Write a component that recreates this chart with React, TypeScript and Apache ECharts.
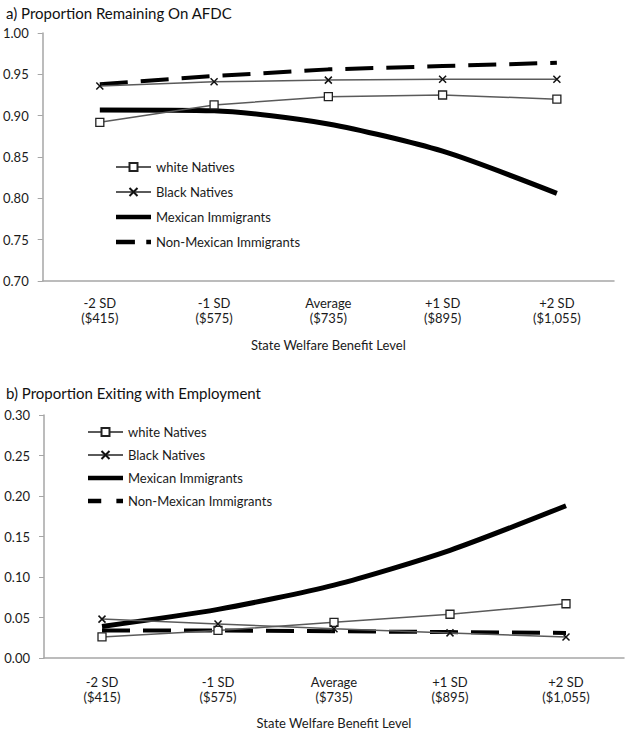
import React, { useEffect, useRef } from "react";
import * as echarts from "echarts";

const sdLabels = ["-2 SD", "-1 SD", "Average", "+1 SD", "+2 SD"];
const dollarLabels = ["($415)", "($575)", "($735)", "($895)", "($1,055)"];
const seriesNames = ["white Natives", "Black Natives", "Mexican Immigrants", "Non-Mexican Immigrants"];

const topWhite = [0.892, 0.913, 0.923, 0.925, 0.92];
const topBlack = [0.936, 0.941, 0.943, 0.944, 0.944];
const topMexican = [0.907, 0.906, 0.89, 0.857, 0.806];
const topNonMexican = [0.938, 0.948, 0.956, 0.96, 0.964];

const bottomWhite = [0.026, 0.034, 0.044, 0.054, 0.067];
const bottomBlack = [0.048, 0.042, 0.036, 0.031, 0.026];
const bottomMexican = [0.039, 0.06, 0.09, 0.133, 0.188];
const bottomNonMexican = [0.034, 0.034, 0.033, 0.032, 0.031];

const topTitle = "a) Proportion Remaining On AFDC";
const bottomTitle = "b) Proportion Exiting with Employment";
const xName = "State Welfare Benefit Level";

const FONT = "Lato, 'Liberation Sans', sans-serif";
const AXIS_GRAY = "#a6a6a6";
const THIN = "#5a5a5a";
const TEXT = "#1a1a1a";
const X_PATH = "path://M0,0L10,10M10,0L0,10";
const SOLID_ICON = "path://M0,0H37V4.5H0Z";
const DASH_ICON_TOP = "path://M0,0H20V4.5H0ZM32,0H37V4.5H32Z";
const DASH_ICON_BOTTOM = "path://M0,0H14V4.5H0ZM30,0H37V4.5H30Z";

function makeSeries(idx: number, data: number[][]) {
  const [w, b, m, n] = data;
  return [
    {
      name: seriesNames[0], type: "line", xAxisIndex: idx, yAxisIndex: idx, data: w,
      symbol: "rect", symbolSize: 8,
      lineStyle: { color: THIN, width: 1.5 },
      itemStyle: { color: "#ffffff", borderColor: "#222", borderWidth: 1.3 },
      z: 4,
    },
    {
      name: seriesNames[1], type: "line", xAxisIndex: idx, yAxisIndex: idx, data: b,
      symbol: X_PATH, symbolSize: 7,
      lineStyle: { color: THIN, width: 1.5 },
      itemStyle: { color: "#ffffff", borderColor: "#111", borderWidth: 1.5 },
      z: 4,
    },
    {
      name: seriesNames[2], type: "line", xAxisIndex: idx, yAxisIndex: idx, data: m,
      symbol: "none", smooth: 0.25,
      lineStyle: { color: "#000", width: 5 },
      itemStyle: { color: "#000" },
      z: 3,
    },
    {
      name: seriesNames[3], type: "line", xAxisIndex: idx, yAxisIndex: idx, data: n,
      symbol: "none",
      lineStyle: { color: "#000", width: 4, type: [28, 13] },
      itemStyle: { color: "#000" },
      z: 3,
    },
  ];
}

function legendData(dashIcon: string) {
  return [
    { name: seriesNames[0] },
    { name: seriesNames[1] },
    { name: seriesNames[2], icon: SOLID_ICON, itemStyle: { color: "#000", borderWidth: 0 } },
    { name: seriesNames[3], icon: dashIcon, itemStyle: { color: "#000", borderWidth: 0 } },
  ];
}

function xAxis(idx: number, margin: number, nameGap: number) {
  return {
    type: "category", gridIndex: idx,
    data: sdLabels.map((s, i) => s + "\n" + dollarLabels[i]),
    axisLine: { lineStyle: { color: AXIS_GRAY, width: 1.5 } },
    axisTick: { show: false },
    axisLabel: { color: TEXT, fontSize: 13, fontFamily: FONT, lineHeight: 15, margin, interval: 0 },
    name: xName, nameLocation: "middle", nameGap,
    nameTextStyle: { color: TEXT, fontSize: 13, fontFamily: FONT },
  };
}

function yAxis(idx: number, min: number, max: number) {
  return {
    type: "value", gridIndex: idx, min, max, interval: 0.05,
    axisLine: { show: true, lineStyle: { color: AXIS_GRAY, width: 1.5 } },
    axisTick: { show: true, length: 5, lineStyle: { color: AXIS_GRAY } },
    splitLine: { show: false },
    axisLabel: { color: TEXT, fontSize: 13, fontFamily: FONT, margin: 14, formatter: (v: number) => v.toFixed(2) },
  };
}

export default function App() {
  const ref = useRef<HTMLDivElement>(null);
  useEffect(() => {
    if (!ref.current) return;
    const chart = echarts.init(ref.current, undefined, { renderer: "svg" });
    const titleStyle = { fontSize: 15, lineHeight: 18, fontWeight: "normal", color: "#111", fontFamily: FONT };
    const legendText = { fontSize: 13, lineHeight: 14, color: TEXT, fontFamily: FONT };
    chart.setOption({
      animation: false,
      backgroundColor: "#ffffff",
      title: [
        { text: topTitle, left: 6, top: 4, padding: 0, textStyle: titleStyle },
        { text: bottomTitle, left: 6, top: 384, padding: 0, textStyle: titleStyle },
      ],
      legend: [
        {
          data: legendData(DASH_ICON_TOP), orient: "vertical", left: 115, top: 160, padding: 0,
          itemWidth: 35, itemHeight: 10, itemGap: 11, textStyle: legendText,
        },
        {
          data: legendData(DASH_ICON_BOTTOM), orient: "vertical", left: 87, top: 425, padding: 0,
          itemWidth: 35, itemHeight: 10, itemGap: 9, textStyle: legendText,
        },
      ],
      grid: [
        { left: 42, width: 572, top: 33, height: 248 },
        { left: 44, width: 580, top: 415, height: 243 },
      ],
      xAxis: [xAxis(0, 14, 57), xAxis(1, 16, 58)],
      yAxis: [yAxis(0, 0.7, 1.0), yAxis(1, 0, 0.3)],
      series: [
        ...makeSeries(0, [topWhite, topBlack, topMexican, topNonMexican]),
        ...makeSeries(1, [bottomWhite, bottomBlack, bottomMexican, bottomNonMexican]),
      ],
    });
    return () => chart.dispose();
  }, []);
  return (
    <div
      ref={ref}
      style={{ position: "absolute", left: 0, top: 0, width: 629, height: 733, background: "#fff" }}
    />
  );
}
